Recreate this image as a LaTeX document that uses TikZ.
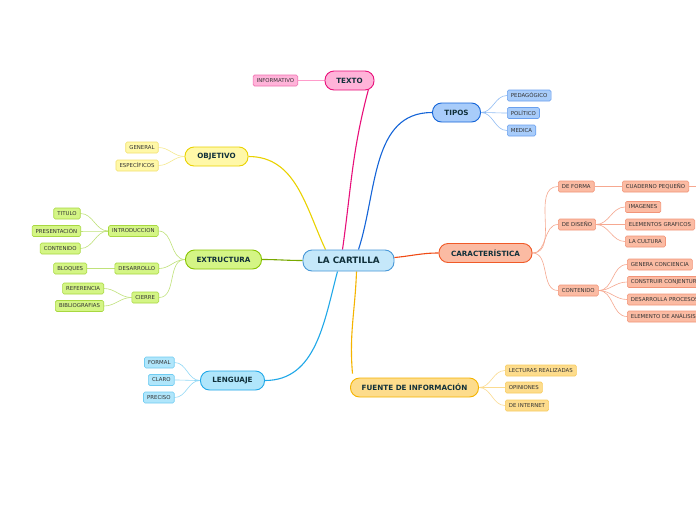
\documentclass[tikz,border=0pt]{standalone}
\usepackage{fontspec}
\setmainfont{DejaVu Sans}
\usetikzlibrary{backgrounds}
\definecolor{txtmain}{HTML}{10303A}
\definecolor{txtleaf}{HTML}{333333}
% pink
\definecolor{pkF}{HTML}{FFB3D9}\definecolor{pkB}{HTML}{E8107A}\definecolor{pkL}{HTML}{F070B0}\definecolor{pkS}{HTML}{FF9CCB}
% blue
\definecolor{buF}{HTML}{A8CCFA}\definecolor{buB}{HTML}{1565D8}\definecolor{buL}{HTML}{6AA0EE}\definecolor{buS}{HTML}{90BCF4}
% yellow
\definecolor{yeF}{HTML}{FFF8A8}\definecolor{yeB}{HTML}{EAD200}\definecolor{yeL}{HTML}{F2E070}\definecolor{yeS}{HTML}{F6EA90}
% green
\definecolor{grF}{HTML}{D4F585}\definecolor{grB}{HTML}{88C400}\definecolor{grL}{HTML}{A8D840}\definecolor{grS}{HTML}{C0E27A}\definecolor{grM}{HTML}{78A800}
% light blue
\definecolor{lbF}{HTML}{B0E6FB}\definecolor{lbB}{HTML}{20A8E8}\definecolor{lbL}{HTML}{70CCF2}\definecolor{lbS}{HTML}{90D8F6}
% orange
\definecolor{orF}{HTML}{FDDC8C}\definecolor{orB}{HTML}{F5B400}\definecolor{orL}{HTML}{F8CC60}\definecolor{orS}{HTML}{FBDB90}
% salmon
\definecolor{saF}{HTML}{FBBBA3}\definecolor{saB}{HTML}{F05A28}\definecolor{saL}{HTML}{F29478}\definecolor{saS}{HTML}{F6A890}\definecolor{saM}{HTML}{F04A14}
% center
\definecolor{ceF}{HTML}{C5E8FA}\definecolor{ceB}{HTML}{4898D8}
\tikzset{
  centerbox/.style={draw=ceB, fill=ceF, line width=0.9pt, rounded corners=9pt, minimum width=91pt, minimum height=21pt, inner sep=0pt, font=\fontsize{8.8}{9}\selectfont\bfseries, text=txtmain},
  branch/.style={line width=0.9pt, rounded corners=9pt, minimum height=19pt, inner sep=0pt, font=\fontsize{7.2}{8}\selectfont\bfseries, text=txtmain},
  leaf/.style={line width=0.6pt, rounded corners=1.5pt, minimum height=11pt, inner xsep=3.6pt, inner ysep=0pt, font=\fontsize{5.4}{6}\selectfont, text=txtleaf},
  mainline/.style={line width=1.1pt},
  subline/.style={line width=0.6pt},
}
\begin{document}
\begin{tikzpicture}[x=1pt,y=-1pt]
\useasboundingbox (0,0) rectangle (696,520);
\clip (0,0) rectangle (696,520);

% center
\node[centerbox] (cart) at (348.5,260.5) {LA CARTILLA};

% TEXTO
\node[branch, draw=pkB, fill=pkF, minimum width=49pt] (texto) at (349.5,80.5) {TEXTO};
\node[leaf, draw=pkL, fill=pkF, anchor=east] (informativo) at (298,80.5) {INFORMATIVO};

% TIPOS
\node[branch, draw=buB, fill=buF, minimum width=48pt] (tipos) at (456.5,112.5) {TIPOS};
\node[leaf, draw=buL, fill=buF, anchor=west] (pedag) at (507,95.5) {PEDAGÓGICO};
\node[leaf, draw=buL, fill=buF, anchor=west] (polit) at (507,113) {POLÍTICO};
\node[leaf, draw=buL, fill=buF, anchor=west] (medica) at (507,130.5) {MEDICA};

% OBJETIVO
\node[branch, draw=yeB, fill=yeF, minimum width=63pt] (objetivo) at (216.5,156.5) {OBJETIVO};
\node[leaf, draw=yeL, fill=yeF, anchor=east] (general) at (158.5,147.5) {GENERAL};
\node[leaf, draw=yeL, fill=yeF, anchor=east] (especificos) at (158.5,165.5) {ESPECÍFICOS};

% EXTRUCTURA
\node[branch, draw=grB, fill=grF, minimum width=76pt] (extr) at (223.5,259.5) {EXTRUCTURA};
\node[leaf, draw=grL, fill=grF, anchor=east] (intro) at (158.5,231) {INTRODUCCION};
\node[leaf, draw=grL, fill=grF, anchor=east] (titulo) at (80.5,213.5) {TITULO};
\node[leaf, draw=grL, fill=grF, anchor=east] (present) at (81,231) {PRESENTACIÓN};
\node[leaf, draw=grL, fill=grF, anchor=east] (contE) at (80.5,248.5) {CONTENIDO};
\node[leaf, draw=grL, fill=grF, anchor=east] (desarr) at (159,268.5) {DESARROLLO};
\node[leaf, draw=grL, fill=grF, anchor=east] (bloques) at (87,268.5) {BLOQUES};
\node[leaf, draw=grL, fill=grF, anchor=east] (cierre) at (159,297.5) {CIERRE};
\node[leaf, draw=grL, fill=grF, anchor=east] (refer) at (104,288.5) {REFERENCIA};
\node[leaf, draw=grL, fill=grF, anchor=east] (biblio) at (104,306) {BIBLIOGRAFIAS};

% LENGUAJE
\node[branch, draw=lbB, fill=lbF, minimum width=64pt] (leng) at (232.5,380.5) {LENGUAJE};
\node[leaf, draw=lbL, fill=lbF, anchor=east] (formal) at (174.5,362.5) {FORMAL};
\node[leaf, draw=lbL, fill=lbF, anchor=east] (claro) at (174.5,380) {CLARO};
\node[leaf, draw=lbL, fill=lbF, anchor=east] (preciso) at (174.5,397.5) {PRECISO};

% FUENTE
\node[branch, draw=orB, fill=orF, minimum width=128pt] (fuente) at (414.5,387.5) {FUENTE DE INFORMACIÓN};
\node[leaf, draw=orL, fill=orF, anchor=west] (lect) at (505,370.5) {LECTURAS REALIZADAS};
\node[leaf, draw=orL, fill=orF, anchor=west] (opin) at (505,387.5) {OPINIONES};
\node[leaf, draw=orL, fill=orF, anchor=west] (inter) at (505,405.5) {DE INTERNET};

% CARACTERISTICA
\node[branch, draw=saB, fill=saF, minimum width=93pt] (carac) at (485.5,253) {CARACTERÍSTICA};
\node[leaf, draw=saL, fill=saF, anchor=west] (deforma) at (558,186.5) {DE FORMA};
\node[leaf, draw=saL, fill=saF, anchor=west] (cuaderno) at (622,186.5) {CUADERNO PEQUEÑO};
\node[leaf, draw=saL, fill=saF, anchor=west] (dediseno) at (558,224.5) {DE DISEÑO};
\node[leaf, draw=saL, fill=saF, anchor=west] (imagenes) at (625,207) {IMAGENES};
\node[leaf, draw=saL, fill=saF, anchor=west] (elementos) at (625,224.5) {ELEMENTOS GRAFICOS};
\node[leaf, draw=saL, fill=saF, anchor=west] (cultura) at (625,241.5) {LA CULTURA};
\node[leaf, draw=saL, fill=saF, anchor=west] (contC) at (558,290.5) {CONTENIDO};
\node[leaf, draw=saL, fill=saF, anchor=west] (genera) at (627,264.5) {GENERA CONCIENCIA};
\node[leaf, draw=saL, fill=saF, anchor=west] (construir) at (627,282) {CONSTRUIR CONJENTURAS};
\node[leaf, draw=saL, fill=saF, anchor=west] (desproc) at (627,299.5) {DESARROLLA PROCESOS};
\node[leaf, draw=saL, fill=saF, anchor=west] (elemanal) at (627,316.5) {ELEMENTO DE ANÁLISIS};
\coordinate (offright) at (702,186.5);

\begin{scope}[on background layer]
\fill[white] (0,0) rectangle (696,520);
% main connectors
\draw[mainline, draw=pkB] ([xshift=-6pt]cart.north) to[out=82,in=-105] ([xshift=-6pt,yshift=1pt]texto.south east);
\draw[mainline, draw=buB] ([xshift=10pt]cart.north) to[out=72,in=180] (tipos.west);
\draw[mainline, draw=yeB] ([xshift=-23pt]cart.north) to[out=115,in=0] (objetivo.east);
\draw[mainline, draw=grM] (cart.west) to[out=180,in=0] (extr.east);
\draw[mainline, draw=lbB] ([xshift=-11pt]cart.south) to[out=-105,in=0] (leng.east);
\draw[mainline, draw=orB] ([xshift=8pt]cart.south) to[out=-92,in=95] ([xshift=-62pt,yshift=4pt]fuente.north);
\draw[mainline, draw=saM] ([yshift=3pt]cart.east) to[out=5,in=180] (carac.west);
% TEXTO
\draw[subline, draw=pkS] (texto.west) -- (informativo.east);
% TIPOS
\foreach \n in {pedag,polit,medica} \draw[subline, draw=buS] (tipos.east) to[out=0,in=180] (\n.west);
% OBJETIVO
\foreach \n in {general,especificos} \draw[subline, draw=yeS] (objetivo.west) to[out=180,in=0] (\n.east);
% EXTRUCTURA
\foreach \n in {intro,desarr,cierre} \draw[subline, draw=grS] (extr.west) to[out=180,in=0] (\n.east);
\foreach \n in {titulo,present,contE} \draw[subline, draw=grS] (intro.west) to[out=180,in=0] (\n.east);
\draw[subline, draw=grS] (desarr.west) -- (bloques.east);
\foreach \n in {refer,biblio} \draw[subline, draw=grS] (cierre.west) to[out=180,in=0] (\n.east);
% LENGUAJE
\foreach \n in {formal,claro,preciso} \draw[subline, draw=lbS] (leng.west) to[out=180,in=0] (\n.east);
% FUENTE
\foreach \n in {lect,opin,inter} \draw[subline, draw=orS] (fuente.east) to[out=0,in=180] (\n.west);
% CARACTERISTICA
\foreach \n in {deforma,dediseno,contC} \draw[subline, draw=saS] (carac.east) to[out=0,in=180] (\n.west);
\draw[subline, draw=saS] (deforma.east) -- (cuaderno.west);
\draw[subline, draw=saS] (cuaderno.east) -- (offright);
\foreach \n in {imagenes,elementos,cultura} \draw[subline, draw=saS] (dediseno.east) to[out=0,in=180] (\n.west);
\foreach \n in {genera,construir,desproc,elemanal} \draw[subline, draw=saS] (contC.east) to[out=0,in=180] (\n.west);
\end{scope}
\end{tikzpicture}
\end{document}
